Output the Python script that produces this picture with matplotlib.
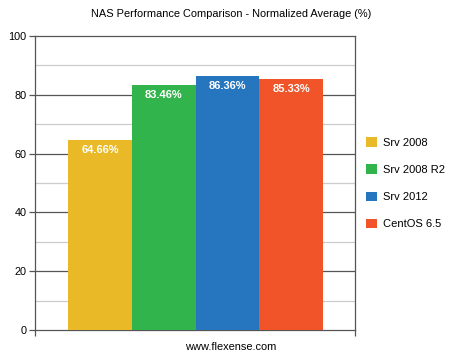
import matplotlib.pyplot as plt
import numpy

plt.rcParams["font.family"] = ["Liberation Sans", "DejaVu Sans"]

# %% Data
systems = ["Srv 2008", "Srv 2008 R2", "Srv 2012", "CentOS 6.5"]
scores = [64.66, 83.46, 86.36, 85.33]
colors = ["#E9B928", "#32B44C", "#2675BF", "#F05428"]
y_ticks = [0, 20, 40, 60, 80, 100]
y_minor = [10, 30, 50, 70, 90]

# %% Figure
fig = plt.figure(figsize=(4.6, 3.55), dpi=100)
ax = fig.add_axes([35 / 460, 25 / 355, 320 / 460, 294 / 355])

x = numpy.arange(len(systems))
bars = ax.bar(x, scores, width=1.0, color=colors, zorder=3, label=systems)

for xi, v in zip(x, scores):
    ax.text(xi, v - 3.4, f"{v:.2f}%", ha="center", va="center",
            color="white", fontsize=8, fontweight="bold", zorder=4)

# grid: dark on major, light on minor
for v in y_ticks[1:-1]:
    ax.axhline(v, color="#555555", lw=0.9, zorder=1)
for v in y_minor:
    ax.axhline(v, color="#cccccc", lw=0.9, zorder=1)

ax.set_ylim(0, 100)
ax.set_xlim(-1.02, 4.0)
ax.set_yticks(y_ticks)
ax.set_xticks([-1.02, 4.0])
ax.set_xticklabels(["", ""])
ax.tick_params(axis="y", length=4, width=0.9, color="#555555", labelsize=7.8, pad=2)
ax.tick_params(axis="x", length=4, width=0.9, color="#555555")
for s in ax.spines.values():
    s.set_color("#555555")
    s.set_linewidth(0.9)

fig.text(231 / 460, 1 - 14 / 355, "NAS Performance Comparison - Normalized Average (%)",
         ha="center", va="center", fontsize=7.9)
fig.text(231 / 460, 1 - 347 / 355, "www.flexense.com", ha="center", va="center", fontsize=7.9)

fig.legend(handles=list(bars), labels=systems, loc="upper left",
           bbox_to_anchor=(362 / 460, 1 - 133 / 355), frameon=False,
           fontsize=8, handlelength=0.95, handleheight=0.95,
           handletextpad=0.5, labelspacing=1.48, borderaxespad=0)

fig.savefig("out.png", dpi=100)
